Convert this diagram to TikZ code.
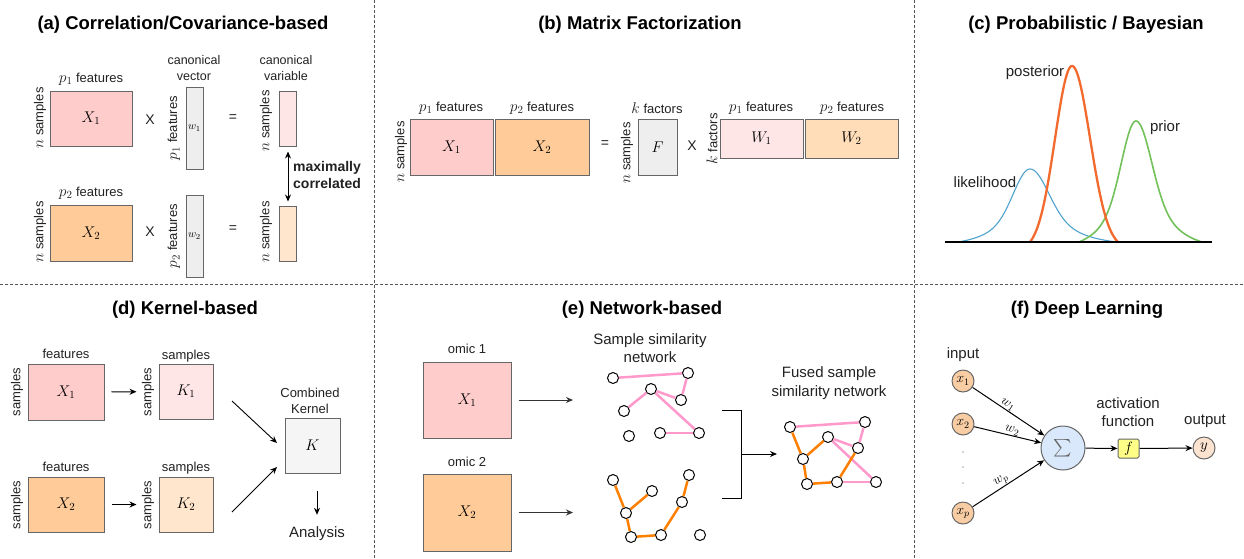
\RequirePackage{fix-cm}
\documentclass[tikz,border=0pt]{standalone}
\usepackage{fontspec}
\setmainfont{Liberation Sans}
\usetikzlibrary{arrows.meta,calc}
\definecolor{pinkA}{HTML}{FFCCCC}
\definecolor{orangeA}{HTML}{FFCC99}
\definecolor{pinkB}{HTML}{FFE6E6}
\definecolor{orangeB}{HTML}{FFE6CC}
\definecolor{orangeW}{HTML}{FFDDB8}
\definecolor{grayA}{HTML}{EEEEEE}
\definecolor{grayB}{HTML}{F5F5F5}
\definecolor{bord}{HTML}{666666}
\definecolor{netpink}{HTML}{FF99CC}
\definecolor{netorange}{HTML}{FF8000}
\definecolor{likec}{HTML}{4FA3CF}
\definecolor{postc}{HTML}{F26A2E}
\definecolor{priorc}{HTML}{72C15A}
\definecolor{sumc}{HTML}{DAE8FC}
\definecolor{fyel}{HTML}{FFFF88}
\definecolor{xin}{HTML}{F9CDA3}
\definecolor{yout}{HTML}{FCE3D0}
\definecolor{sepc}{HTML}{555555}
\definecolor{txt}{HTML}{222222}
\newcommand\mv[1]{{\fontsize{15.5}{15.5}\selectfont$#1$}}
\begin{document}
\begin{tikzpicture}[x=1pt,y=-1pt,
  title/.style={font=\fontsize{18.5}{20}\selectfont\bfseries, inner sep=0},
  lbl/.style={font=\fontsize{13}{15}\selectfont, inner sep=0, text=txt},
  lblb/.style={font=\fontsize{15}{17}\selectfont, inner sep=0, text=txt},
  mat/.style={draw=bord, line width=1pt, inner sep=0, font=\fontsize{15.5}{17}\selectfont},
  arr/.style={-{Stealth[length=7pt,width=6pt]}, line width=1pt},
  darr/.style={{Stealth[length=7pt,width=6pt]}-{Stealth[length=7pt,width=6pt]}, line width=1pt},
  nd/.style={circle, draw=black, fill=white, line width=1pt, minimum size=11pt, inner sep=0},
  pe/.style={netpink, line width=2.5pt},
  oe/.style={netorange, line width=2.5pt},
  inc/.style={circle, draw=bord, fill=xin, line width=1pt, minimum size=22pt, inner sep=0, font=\fontsize{14}{14}\selectfont},
  wl/.style={sloped, above, inner sep=0.5pt, font=\fontsize{13.5}{13.5}\selectfont},
  sepline/.style={sepc, line width=0.9pt, dash pattern=on 3pt off 2pt},
  declare function={
    gh(\d,\s)=0.7*exp(-0.5*(\d/\s)^2)+0.3*exp(-0.5*(\d/(2.2*\s))^2);
    ch(\d,\s,\D)=(gh(\d,\s)-gh(\D,\s))/(1-gh(\D,\s));
    gp(\d,\s)=exp(-0.5*(\d/\s)^2);
    cp(\d,\s,\D)=(gp(\d,\s)-gp(\D,\s))/(1-gp(\D,\s));
  }
]
\useasboundingbox (0,0) rectangle (1244,558);
\fill[white] (0,0) rectangle (1244,558);

% separators
\draw[sepline] (0,284) -- (1244,284);
\draw[sepline] (374,0) -- (374,558);
\draw[sepline] (914,0) -- (914,558);

% ================= (a)
\node[title] (ta) at (183,25) {(a) Correlation/Covariance-based};
\node[mat, fill=pinkA, minimum width=82pt, minimum height=55pt] (X1a) at (91,118.5) {$X_1$};
\node[lbl] (X1af) at (91,79) {\mv{p_1} features};
\node[lbl, rotate=90] (X1as) at (40,118) {\mv{n} samples};
\node[lbl, font=\fontsize{14}{15}\selectfont] (mA1) at (150,120) {X};
\node[mat, fill=grayA, minimum width=17pt, minimum height=82pt, font=\fontsize{11}{12}\selectfont] (w1a) at (194.5,128) {$w_1$};
\node[lbl, rotate=90] (w1af) at (174,128) {\mv{p_1} features};
\node[lbl, align=center, font=\fontsize{12.5}{16}\selectfont] (cvec) at (194,68) {canonical\\vector};
\node[lbl, font=\fontsize{14}{15}\selectfont] (eqA1) at (233,118) {=};
\node[mat, fill=pinkB, minimum width=17pt, minimum height=55pt] (cv1) at (287.5,118.5) {};
\node[lbl, rotate=90] (cv1s) at (266,121) {\mv{n} samples};
\node[lbl, align=center, font=\fontsize{12.5}{16}\selectfont] (cvar) at (286,68) {canonical\\variable};

\node[lbl] (X2af) at (91,193) {\mv{p_2} features};
\node[mat, fill=orangeA, minimum width=82pt, minimum height=56pt] (X2a) at (91,233) {$X_2$};
\node[lbl, rotate=90] (X2as) at (40,232) {\mv{n} samples};
\node[lbl, font=\fontsize{14}{15}\selectfont] (mA2) at (150,232) {X};
\node[mat, fill=grayA, minimum width=17pt, minimum height=82pt, font=\fontsize{11}{12}\selectfont] (w2a) at (194.5,236) {$w_2$};
\node[lbl, rotate=90] (w2af) at (174,236) {\mv{p_2} features};
\node[lbl, font=\fontsize{14}{15}\selectfont] (eqA2) at (233,229) {=};
\node[mat, fill=orangeB, minimum width=17pt, minimum height=55pt] (cv2) at (287.5,233.5) {};
\node[lbl, rotate=90] (cv2s) at (266,232) {\mv{n} samples};
\draw[darr, shorten <=5pt, shorten >=4pt] (cv1.south -| 288,0) -- (cv2.north -| 288,0);
\node[lbl, font=\fontsize{14}{17}\selectfont\bfseries, align=left, anchor=west] (maxc) at (293,175) {maximally\\correlated};

% ================= (b)
\node[title] (tb) at (640,25) {(b) Matrix Factorization};
\node[mat, fill=pinkA, minimum width=83pt, minimum height=56pt] (X1b) at (451.5,147) {$X_1$};
\node[mat, fill=orangeA, minimum width=94pt, minimum height=56pt] (X2b) at (542,147) {$X_2$};
\node[lbl] (X1bf) at (451,108) {\mv{p_1} features};
\node[lbl] (X2bf) at (542,108) {\mv{p_2} features};
\node[lbl, rotate=90] (Xbs) at (401,152) {\mv{n} samples};
\node[lbl, font=\fontsize{14}{15}\selectfont] (eqB) at (605,144) {=};
\node[mat, fill=grayA, minimum width=39pt, minimum height=56pt] (Fb) at (657.5,147) {$F$};
\node[lbl] (Fbk) at (657,108) {\mv{k} factors};
\node[lbl, rotate=90] (Fbs) at (627,153) {\mv{n} samples};
\node[lbl, font=\fontsize{14}{15}\selectfont] (mB) at (692,146) {X};
\node[lbl, rotate=90] (Wbk) at (712,139) {\mv{k} factors};
\node[mat, fill=pinkB, minimum width=83pt, minimum height=39pt] (W1b) at (761.5,138.5) {$W_1$};
\node[mat, fill=orangeW, minimum width=93pt, minimum height=39pt] (W2b) at (851.5,138.5) {$W_2$};
\node[lbl] (W1bf) at (761,108) {\mv{p_1} features};
\node[lbl] (W2bf) at (852,108) {\mv{p_2} features};

% ================= (c)
\node[title] (tc) at (1086,25) {(c) Probabilistic / Bayesian};
\draw[likec, line width=1.1pt, line join=round]
  plot[domain=958:1030, samples=60, smooth] (\x, {242-73*ch(1030-\x,16,72)})
  -- plot[domain=1030:1117, samples=70, smooth] (\x, {242-73*ch(\x-1030,18,87)});
\draw[priorc, line width=1.6pt, line join=round]
  plot[domain=1079:1136, samples=60, smooth] (\x, {242-121*ch(1136-\x,14,57)})
  -- plot[domain=1136:1202, samples=60, smooth] (\x, {242-121*ch(\x-1136,15,66)});
\draw[postc, line width=2.3pt, line join=round]
  plot[domain=1030:1072, samples=50, smooth] (\x, {242-176*cp(1072-\x,17,42)})
  -- plot[domain=1072:1118, samples=50, smooth] (\x, {242-176*cp(\x-1072,18,46)});
\draw[line width=1.2pt] (945,242) -- (1212,242);
\node[lblb] (lpost) at (1035,73) {posterior};
\node[lblb] (lprior) at (1165,128) {prior};
\node[lblb] (llik) at (985,182) {likelihood};

% ================= (d)
\node[title] (td) at (185,310) {(d) Kernel-based};
\node[mat, fill=pinkA, minimum width=76pt, minimum height=56pt] (X1d) at (66,392) {$X_1$};
\node[lbl] (X1df) at (66,354) {features};
\node[lbl, rotate=90] (X1ds) at (17,392) {samples};
\node[mat, fill=pinkB, minimum width=54pt, minimum height=55pt] (K1d) at (186,391.5) {$K_1$};
\node[lbl] (K1dt) at (186,356) {samples};
\node[lbl, rotate=90] (K1ds) at (148,392) {samples};
\node[mat, fill=orangeA, minimum width=76pt, minimum height=55pt] (X2d) at (66,504.5) {$X_2$};
\node[lbl] (X2df) at (66,467) {features};
\node[lbl, rotate=90] (X2ds) at (17,505) {samples};
\node[mat, fill=orangeB, minimum width=54pt, minimum height=55pt] (K2d) at (186,504.5) {$K_2$};
\node[lbl] (K2dt) at (186,468) {samples};
\node[lbl, rotate=90] (K2ds) at (148,505) {samples};
\node[mat, fill=grayB, minimum width=55pt, minimum height=55pt] (Kd) at (312.5,445.5) {$K$};
\node[lbl, align=center, font=\fontsize{13}{16}\selectfont] (comb) at (310,401) {Combined\\Kernel};
\node[lblb] (anal) at (317,534) {Analysis};
\draw[arr, shorten <=7pt, shorten >=22pt] (X1d.east) -- (K1d.west);
\draw[arr, shorten <=7pt, shorten >=22pt] (X2d.east) -- (K2d.west);
\coordinate (d1s) at (232,401);
\coordinate (d1e) at (277,443);
\coordinate (d2s) at (232,512);
\coordinate (d2e) at (277,467);
\draw[arr, line width=0.9pt] (d1s) -- (d1e);
\draw[arr, line width=0.9pt] (d2s) -- (d2e);
\draw[arr, shorten <=17pt, shorten >=12pt] (Kd.south -| anal.north) -- (anal.north);

% ================= (e)
\node[title] (te) at (642,310) {(e) Network-based};
\node[lbl] (om1) at (467,349) {omic 1};
\node[mat, fill=pinkA, minimum width=88pt, minimum height=76pt] (X1e) at (467,400) {$X_1$};
\node[lbl] (om2) at (467,462) {omic 2};
\node[mat, fill=orangeA, minimum width=88pt, minimum height=77pt] (X2e) at (467,512.5) {$X_2$};
\coordinate (ne1) at (573,400);
\coordinate (ne2) at (573,512.5);
\draw[arr, draw=black!80, shorten <=7pt] (X1e.east) -- (ne1);
\draw[arr, draw=black!80, shorten <=7pt] (X2e.east) -- (ne2);
\node[lblb, align=center, font=\fontsize{15}{18.5}\selectfont] (ssn) at (650,348) {Sample similarity\\network};
\node[lblb, align=center, font=\fontsize{15}{18.5}\selectfont] (fssn) at (829,383) {Fused sample\\similarity network};

\node[nd] (a1) at (613,378) {};
\node[nd] (b1) at (688,373) {};
\node[nd] (c1) at (651,389) {};
\node[nd] (d1) at (681,400) {};
\node[nd] (e1) at (624,411) {};
\node[nd] (f1) at (629,436) {};
\node[nd] (g1) at (660,433) {};
\node[nd] (h1) at (699,433) {};
\draw[pe] (a1) -- (b1);
\draw[pe] (b1) -- (d1);
\draw[pe] (c1) -- (d1);
\draw[pe] (c1) -- (e1);
\draw[pe] (c1) -- (h1);
\draw[pe] (g1) -- (h1);

\node[nd] (a2) at (613,480) {};
\node[nd] (b2) at (689,475) {};
\node[nd] (c2) at (652,491) {};
\node[nd] (d2) at (682,502) {};
\node[nd] (e2) at (626,513) {};
\node[nd] (f2) at (631,537) {};
\node[nd] (g2) at (661,535) {};
\node[nd] (h2) at (700,535) {};
\draw[oe] (a2) -- (e2);
\draw[oe] (e2) -- (c2);
\draw[oe] (e2) -- (f2);
\draw[oe] (f2) -- (g2);
\draw[oe] (g2) -- (d2);
\draw[oe] (d2) -- (b2);

\coordinate (bt) at (722,410);
\coordinate (bb) at (722,498);
\coordinate (bm) at (741,454);
\coordinate (be) at (777,454);
\draw[line width=1pt] (bt) -- (bt -| bm) -- (bb -| bm) -- (bb);
\draw[arr] (bm) -- (be);

\node[nd] (fP) at (790,427) {};
\node[nd] (fQ) at (865,422) {};
\node[nd] (fR) at (828,437) {};
\node[nd] (fS) at (858,448) {};
\node[nd] (fT) at (803,459) {};
\node[nd] (fU) at (807,484) {};
\node[nd] (fV) at (837,482) {};
\node[nd] (fW) at (876,482) {};
\draw[pe] (fP) -- (fQ);
\draw[pe] (fQ) -- (fS);
\draw[pe] (fR) -- (fS);
\draw[pe] (fR) -- (fW);
\draw[pe] (fV) -- (fW);
\draw[oe] (fP) -- (fT);
\draw[oe] (fT) -- (fR);
\draw[oe] (fT) -- (fU);
\draw[oe] (fU) -- (fV);
\draw[oe] (fV) -- (fS);

% ================= (f)
\node[title] (tf) at (1087,310) {(f) Deep Learning};
\node[lblb] (inp) at (963,355) {input};
\node[inc] (x1) at (963,381) {$x_1$};
\node[inc] (x2) at (963,424) {$x_2$};
\node[inc] (xp) at (963,513) {$x_p$};
\fill[black!70] (963,452) circle (0.7);
\fill[black!70] (963,467) circle (0.7);
\fill[black!70] (963,483) circle (0.7);
\node[circle, draw=bord, fill=sumc, line width=1pt, minimum size=44pt, inner sep=0, text=black!60] (sum) at (1063,448) {\scalebox{1.75}{$\textstyle\sum$}};
\node[draw=bord, fill=fyel, line width=1pt, minimum width=21pt, minimum height=19pt, inner sep=0, rounded corners=1.5pt, font=\fontsize{15}{15}\selectfont] (fbox) at (1128.5,448.5) {$f$};
\node[circle, draw=bord, fill=yout, line width=1pt, minimum size=22pt, inner sep=0, font=\fontsize{15}{15}\selectfont] (yo) at (1204,448) {$y$};
\node[lblb, align=center, font=\fontsize{15}{18}\selectfont] (act) at (1128,412) {activation\\function};
\node[lblb] (outp) at (1205,421) {output};
\draw[arr] (x1) -- node[wl, pos=0.45] {$w_1$} (sum);
\draw[arr] (x2) -- node[wl, pos=0.55] {$w_2$} (sum);
\draw[arr] (xp) -- node[wl, pos=0.45] {$w_p$} (sum);
\draw[arr] (sum) -- (fbox);
\draw[arr] (fbox) -- (yo);
\end{tikzpicture}
\end{document}
